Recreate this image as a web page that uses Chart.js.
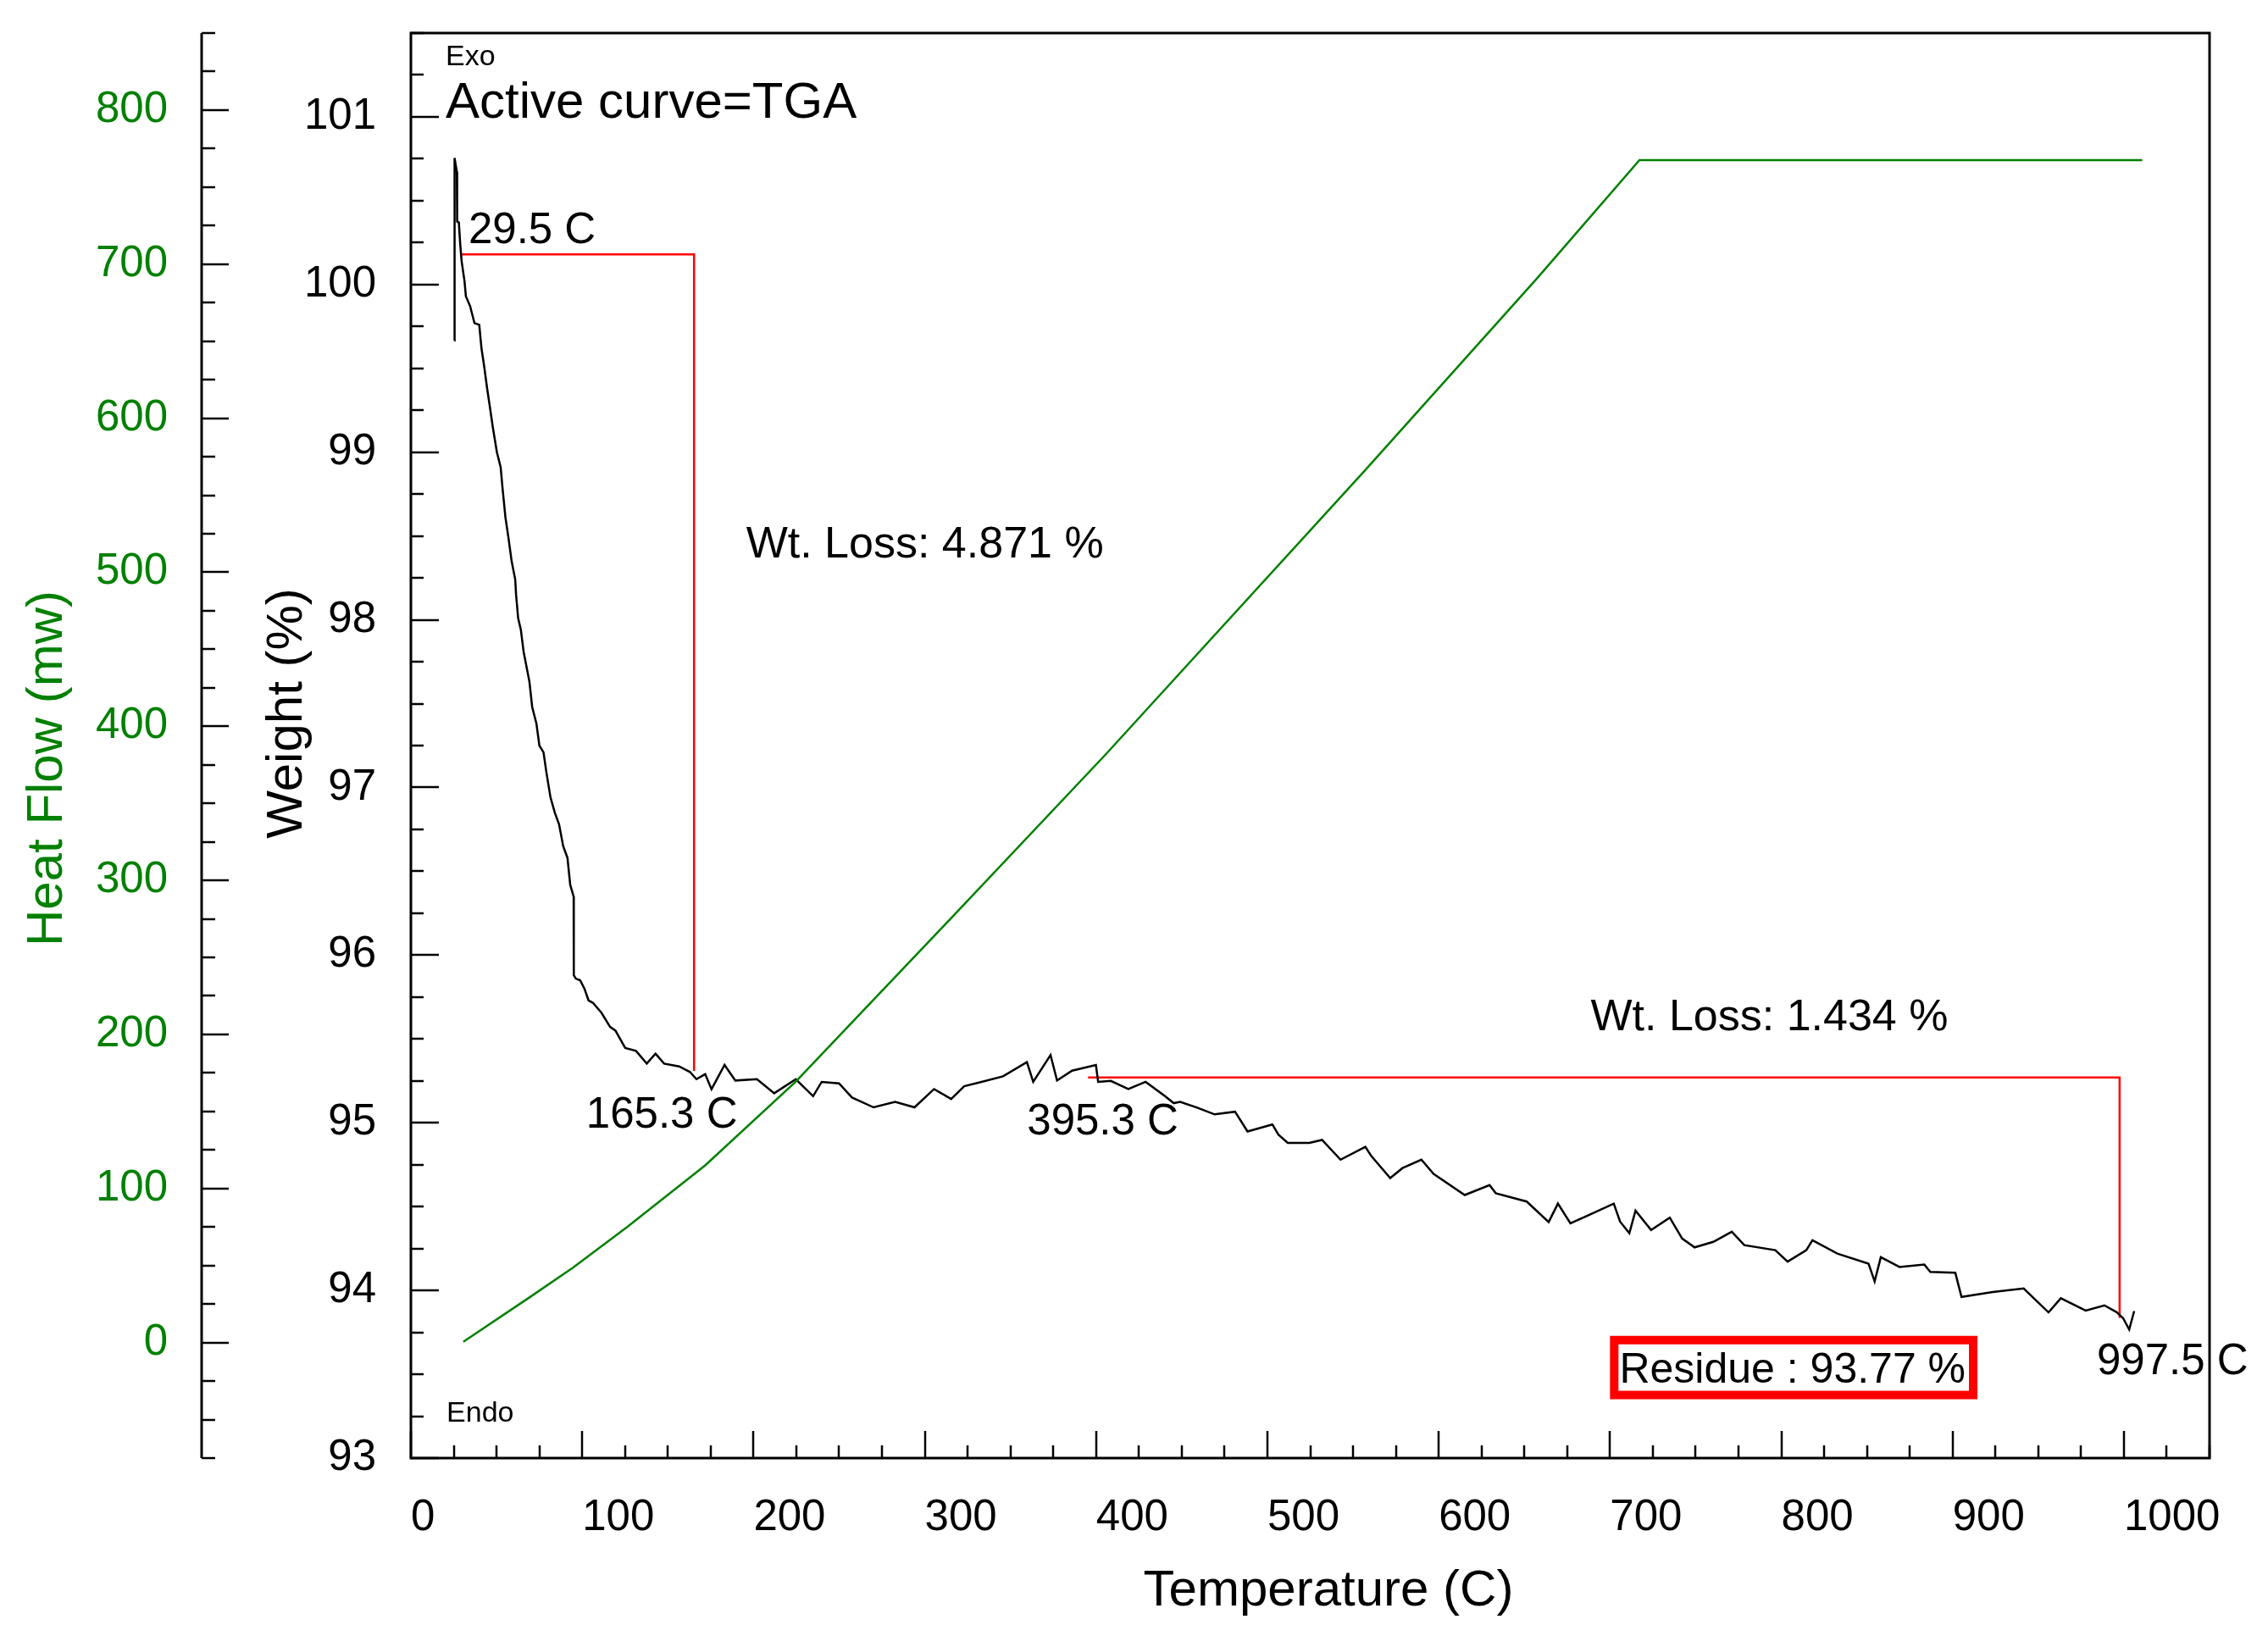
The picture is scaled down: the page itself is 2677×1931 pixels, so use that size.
<!DOCTYPE html>
<html>
<head>
<meta charset="utf-8">
<title>TGA</title>
<script src="https://cdn.jsdelivr.net/npm/chart.js@4.4.1/dist/chart.umd.min.js"></script>
<style>
  html, body { margin: 0; padding: 0; background: #fff; }
  canvas { display: block; }
</style>
</head>
<body>
<canvas id="tga" width="2677" height="1931" style="width:2677px;height:1931px"></canvas>
<script>
// TGA weight curve (temperature C / weight %)
const tgaTemp = [
  25.4, 25.5, 26.8, 27.0, 28.0, 28.8, 29.6, 31.3, 32.1, 34.6, 37.1, 39.9, 41.2, 42.8, 44.5,
  46.1, 47.8, 50.2, 52.4, 53.5, 55.2, 56.8, 58.8, 60.9, 61.4, 62.6, 64.2, 65.8, 67.5, 69.2,
  70.8, 73.3, 75.0, 77.4, 79.1, 81.5, 84.0, 86.5, 88.9, 91.4, 93.0, 94.7, 95.0, 95.1, 96.3,
  98.8, 101.3, 103.7, 106.2, 111.2, 116.3, 119.4, 125.1, 131.4, 137.7, 142.8, 147.8, 156.6, 162.9,
  166.7, 171.8, 175.5, 183.1, 189.4, 202, 212.1, 224.7, 234.8, 239.8, 249.9, 257.5, 270.1, 282.7,
  294, 305.4, 315.4, 323, 333.1, 345.7, 359.6, 363.3, 373.4, 377.2, 386, 399.9, 401.2, 408.6,
  418.8, 428.9, 440.2, 445.3, 449.1, 459, 469.2, 481.1, 488.4, 502.9, 506.4, 511.9, 524.5, 531.9,
  542.7, 557.2, 560.8, 571.7, 578.9, 589.9, 597, 615.2, 629.7, 633.3, 651.4, 664.2, 669.6, 676.9,
  687.7, 702.2, 705.9, 711.3, 714.9, 724, 734.9, 742.1, 749.4, 760.3, 771.1, 778.4, 796.5, 803.7,
  814.6, 818.2, 832.7, 850.9, 854.5, 858.1, 869, 883.5, 887, 901.6, 905.2, 923.4, 941.5, 956,
  963.2, 977.7, 988.6, 995.8, 999.5, 1003.1, 1006
];
const tgaWeight = [
  99.665, 100.755, 100.673, 100.376, 100.37, 100.24, 100.14, 100.02, 99.93, 99.87, 99.77, 99.76, 99.62, 99.51, 99.38,
  99.27, 99.15, 99.00, 98.91, 98.785, 98.61, 98.50, 98.35, 98.24, 98.15, 98.01, 97.94, 97.81, 97.72, 97.63,
  97.48, 97.38, 97.25, 97.21, 97.09, 96.94, 96.85, 96.78, 96.65, 96.58, 96.42, 96.36, 96.35, 95.88, 95.86,
  95.85, 95.80, 95.73, 95.716, 95.657, 95.572, 95.55, 95.446, 95.429, 95.353, 95.412, 95.353, 95.336, 95.303,
  95.26, 95.29, 95.20, 95.345, 95.252, 95.26, 95.176, 95.26, 95.159, 95.244, 95.235, 95.151, 95.092, 95.125,
  95.092, 95.201, 95.142, 95.218, 95.244, 95.277, 95.362, 95.244, 95.404, 95.252, 95.311, 95.345, 95.244, 95.25,
  95.201, 95.244, 95.159, 95.117, 95.125, 95.09, 95.05, 95.066, 94.948, 94.99, 94.93, 94.88, 94.88, 94.898,
  94.78, 94.856, 94.80, 94.67, 94.73, 94.78, 94.695, 94.569, 94.628, 94.58, 94.53, 94.408, 94.518, 94.40,
  94.45, 94.518, 94.41, 94.341, 94.476, 94.36, 94.434, 94.31, 94.257, 94.29, 94.35, 94.27, 94.24, 94.172,
  94.24, 94.299, 94.22, 94.16, 94.054, 94.198, 94.14, 94.155, 94.11, 94.105, 93.961, 93.99, 94.012, 93.869,
  93.953, 93.88, 93.911, 93.87, 93.835, 93.767, 93.877
];

// heat flow trace (temperature C / mW)
const heatTemp = [30.6, 69.2, 94.6, 126.4, 171.8, 224.7, 264.5, 316.7, 405.8, 556.9, 657.6, 717.2, 1010.7];
const heatFlow = [0.5, 29.3, 48.6, 75.1, 115, 169.4, 216, 277, 382, 566, 691, 767.5, 767.5];

// weight-loss step markers
const step1Temp = [29.5, 165.3, 165.3];
const step1Weight = [100.18, 100.18, 95.309];
const step2Temp = [395.3, 997.5, 997.5];
const step2Weight = [95.27, 95.27, 93.836];

// labelled ticks
const tempTicks = [0, 100, 200, 300, 400, 500, 600, 700, 800, 900, 1000];
const weightTicks = [93, 94, 95, 96, 97, 98, 99, 100, 101];
const heatTicks = [0, 100, 200, 300, 400, 500, 600, 700, 800];

(function() {
    'use strict';

    var FONT = '"Liberation Sans", Arial, sans-serif';
    var GREEN = '#008000';
    var RED = '#ff0000';

    function pairs(xs, ys) {
        return xs.map(function(x, i) { return {x: x, y: ys[i]}; });
    }

    // annotation text, anchored in data units (T, weight)
    var notes = [
        {text: 'Exo', t: 20.3, w: 101.308, size: 34},
        {text: 'Active curve=TGA', t: 20.3, w: 100.996, size: 60},
        {text: 'Endo', t: 20.8, w: 93.216, size: 34},
        {text: '29.5 C', t: 33.6, w: 100.249, size: 51},
        {text: 'Wt. Loss: 4.871 %', t: 195.7, w: 98.373, size: 52},
        {text: '165.3 C', t: 102.3, w: 94.972, size: 51},
        {text: '395.3 C', t: 359.7, w: 94.932, size: 51},
        {text: 'Wt. Loss: 1.434 %', t: 688.7, w: 95.553, size: 52},
        {text: '997.5 C', t: 984.2, w: 93.5, size: 51},
        {text: 'Residue : 93.77 %', t: 705.5, w: 93.449, size: 50}
    ];
    var residueBox = {t0: 700, t1: 914.5, w0: 93.729, w1: 93.351};

    function setTicks(list) {
        return function(scale) {
            scale.ticks = list.map(function(v) { return {value: v}; });
        };
    }
    function fixWidth(w) {
        return function(scale) {
            scale.width = w;
            scale.paddingTop = 0;
            scale.paddingBottom = 0;
        };
    }

    var tgaAxes = {
        id: 'tgaAxes',
        beforeDraw: function(chart) {
            var ctx = chart.ctx;
            ctx.save();
            ctx.fillStyle = '#fff';
            ctx.fillRect(0, 0, chart.width, chart.height);
            ctx.restore();
        },
        afterDraw: function(chart) {
            var ctx = chart.ctx;
            var a = chart.chartArea;
            var xs = chart.scales.x, ys = chart.scales.y, hs = chart.scales.y2;
            ctx.save();

            // residue box
            var bx0 = xs.getPixelForValue(residueBox.t0), bx1 = xs.getPixelForValue(residueBox.t1);
            var by0 = ys.getPixelForValue(residueBox.w0), by1 = ys.getPixelForValue(residueBox.w1);
            ctx.fillStyle = '#fff';
            ctx.fillRect(bx0, by0, bx1 - bx0, by1 - by0);
            ctx.strokeStyle = RED;
            ctx.lineWidth = 10;
            ctx.strokeRect(bx0 + 5, by0 + 5, bx1 - bx0 - 10, by1 - by0 - 10);

            // annotations
            ctx.fillStyle = '#000';
            ctx.textAlign = 'left';
            ctx.textBaseline = 'alphabetic';
            notes.forEach(function(n) {
                ctx.font = n.size + 'px ' + FONT;
                ctx.fillText(n.text, xs.getPixelForValue(n.t), ys.getPixelForValue(n.w));
            });

            // axis titles
            ctx.font = '60px ' + FONT;
            ctx.textAlign = 'center';
            ctx.fillText('Temperature (C)', 1568, 1895);
            ctx.save();
            ctx.translate(356, 842);
            ctx.rotate(-Math.PI / 2);
            ctx.fillText('Weight (%)', 0, 0);
            ctx.restore();
            ctx.save();
            ctx.fillStyle = GREEN;
            ctx.translate(73, 907);
            ctx.rotate(-Math.PI / 2);
            ctx.fillText('Heat Flow (mw)', 0, 0);
            ctx.restore();

            // frame + heat flow axis line
            ctx.strokeStyle = '#000';
            ctx.lineWidth = 3;
            ctx.strokeRect(a.left, a.top, a.right - a.left, a.bottom - a.top);
            ctx.beginPath();
            ctx.moveTo(hs.right, a.top);
            ctx.lineTo(hs.right, a.bottom);
            ctx.stroke();

            // inward tick marks
            ctx.lineWidth = 2.5;
            ctx.beginPath();
            var v, p, len;
            for (v = 0; v <= 1050; v += 25) {
                p = Math.round(xs.getPixelForValue(v));
                len = v % 100 === 0 ? 32 : 15;
                ctx.moveTo(p, a.bottom);
                ctx.lineTo(p, a.bottom - len);
            }
            for (v = 93; v <= 101.5; v += 0.25) {
                p = Math.round(ys.getPixelForValue(v));
                len = Math.abs(v - Math.round(v)) < 1e-6 ? 33 : 15;
                ctx.moveTo(a.left, p);
                ctx.lineTo(a.left + len, p);
            }
            for (v = -75; v <= 850; v += 25) {
                p = Math.round(hs.getPixelForValue(v));
                len = v % 100 === 0 ? 32 : 16;
                ctx.moveTo(hs.right, p);
                ctx.lineTo(hs.right + len, p);
            }
            ctx.stroke();
            ctx.restore();
        }
    };

    var ctx = document.getElementById('tga').getContext('2d');
    new Chart(ctx, {
        type: 'line',
        data: {
            datasets: [
                {
                    label: 'Heat Flow',
                    data: pairs(heatTemp, heatFlow),
                    yAxisID: 'y2',
                    borderColor: GREEN,
                    borderWidth: 2.5,
                    order: 0
                },
                {
                    label: 'TGA',
                    data: pairs(tgaTemp, tgaWeight),
                    yAxisID: 'y',
                    borderColor: '#000',
                    borderWidth: 2.5,
                    order: 1
                },
                {
                    label: 'Step 1',
                    data: pairs(step1Temp, step1Weight),
                    yAxisID: 'y',
                    borderColor: RED,
                    borderWidth: 2.5,
                    order: 2
                },
                {
                    label: 'Step 2',
                    data: pairs(step2Temp, step2Weight),
                    yAxisID: 'y',
                    borderColor: RED,
                    borderWidth: 2.5,
                    order: 2
                }
            ]
        },
        options: {
            responsive: false,
            devicePixelRatio: 1,
            animation: false,
            events: [],
            layout: { padding: { top: 39, right: 69, left: 0, bottom: 0 } },
            elements: {
                point: { radius: 0 },
                line: { tension: 0, fill: false }
            },
            plugins: {
                legend: { display: false },
                tooltip: { enabled: false }
            },
            scales: {
                x: {
                    type: 'linear',
                    position: 'bottom',
                    min: 0,
                    max: 1050,
                    grid: { display: false, drawTicks: false },
                    border: { display: false },
                    afterBuildTicks: setTicks(tempTicks),
                    afterFit: function(scale) {
                        scale.height = 210;
                        scale.paddingLeft = 0;
                        scale.paddingRight = 0;
                    },
                    ticks: {
                        align: 'start',
                        autoSkip: false,
                        maxRotation: 0,
                        padding: 40,
                        color: '#000',
                        font: { family: FONT, size: 51 },
                        callback: function(v) { return String(v); }
                    }
                },
                y: {
                    type: 'linear',
                    position: 'left',
                    weight: 0,
                    min: 93,
                    max: 101.5,
                    grid: { display: false, drawTicks: false },
                    border: { display: false },
                    afterBuildTicks: setTicks(weightTicks),
                    afterFit: fixWidth(247),
                    ticks: {
                        autoSkip: false,
                        padding: 41,
                        color: '#000',
                        font: { family: FONT, size: 51 },
                        callback: function(v) { return String(v); }
                    }
                },
                y2: {
                    type: 'linear',
                    position: 'left',
                    weight: 10,
                    min: -75,
                    max: 850,
                    grid: { display: false, drawTicks: false },
                    border: { display: false },
                    afterBuildTicks: setTicks(heatTicks),
                    afterFit: fixWidth(238),
                    ticks: {
                        autoSkip: false,
                        padding: 40,
                        color: GREEN,
                        font: { family: FONT, size: 51 },
                        callback: function(v) { return String(v); }
                    }
                }
            }
        },
        plugins: [tgaAxes]
    });
})();
</script>
</body>
</html>
